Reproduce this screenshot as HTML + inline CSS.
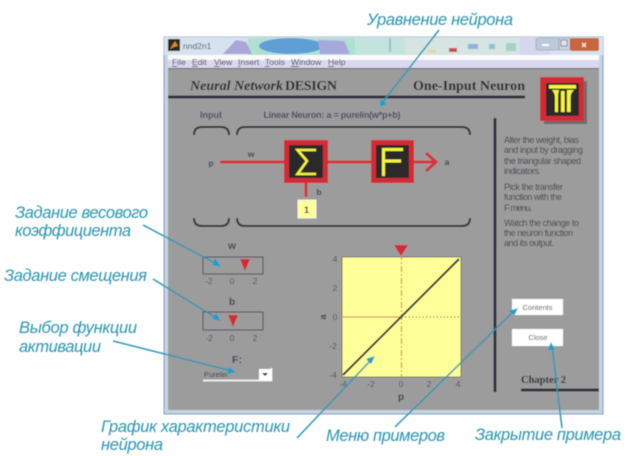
<!DOCTYPE html>
<html><head><meta charset="utf-8"><style>
html,body{margin:0;padding:0;background:#fff;width:633px;height:456px;overflow:hidden}
svg{display:block}
text{font-family:"Liberation Sans",sans-serif}
.s{font-family:"Liberation Serif",serif;font-weight:bold;fill:#26262e}
.c{font-style:italic;font-size:16.5px;fill:#2a94b2}
.h{font-size:9px;fill:#44444e}
.t{font-size:8.5px;fill:#50505c;text-anchor:middle}
.l{font-weight:bold;fill:#3e3e58;text-anchor:middle}
.br{fill:none;stroke:#33333c;stroke-width:2}
.ar{stroke:#2a96b4;stroke-width:1.5;fill:none}
.tip{fill:#1f9fcb}
</style></head><body>
<svg width="633" height="456" viewBox="0 0 633 456" xmlns="http://www.w3.org/2000/svg">
<defs><filter id="b" x="-5%" y="-5%" width="110%" height="110%"><feGaussianBlur stdDeviation="0.45"/></filter></defs>
<g filter="url(#b)">
<!-- window -->
<rect x="164" y="37" width="439" height="377" fill="#c3d3e6" stroke="#8a9cb0"/>
<rect x="164" y="37" width="439" height="18" fill="#d6e2ee"/>
<rect x="248" y="38" width="110" height="17" fill="#b0dfd4"/>
<rect x="355" y="38" width="50" height="17" fill="#c2e4dc"/>
<rect x="405" y="38" width="115" height="17" fill="#d6e4e2"/>
<rect x="520" y="38" width="30" height="17" fill="#d6d6f0"/>
<path d="M223 54 L236 40 L246 42 L252 54Z" fill="#aaa6d6"/>
<ellipse cx="291" cy="46" rx="32" ry="8" fill="#5e9fd6"/>
<path d="M318 40 L344 41 L350 54 L320 54Z" fill="#a7a8dc"/>
<rect x="389" y="38" width="2" height="14" fill="#9cc0d0"/>
<rect x="428" y="50" width="8" height="3" fill="#e0d898"/>
<rect x="449" y="48" width="8" height="4" fill="#c8505a"/>
<rect x="468" y="44" width="10" height="5" fill="#8fb4d6"/>
<rect x="489" y="44" width="6" height="5" fill="#8fc0d6"/>
<rect x="506" y="43" width="10" height="8" fill="#a8d0c8"/>
<rect x="168" y="39" width="12" height="12" fill="#2c2a24"/>
<path d="M170 49 L175 41 L178 46 L174 47Z" fill="#e08a24"/>
<text x="183" y="49" font-size="8.5" fill="#44505c">nnd2n1</text>
<rect x="536" y="38" width="23" height="12" rx="2" fill="#bcc9da" stroke="#8494a8" stroke-width=".5"/>
<rect x="559" y="38" width="11" height="12" fill="#c9d3e0" stroke="#8494a8" stroke-width=".5"/>
<rect x="570" y="38" width="29" height="13" rx="2" fill="#c9663e"/>
<text x="584" y="48" font-size="9" font-weight="bold" fill="#fff" text-anchor="middle">×</text>
<rect x="542" y="44" width="7" height="2" fill="#fff"/>
<rect x="561" y="40" width="6" height="6" fill="#dfe6ee" stroke="#555" stroke-width=".6"/>
<!-- menu -->
<rect x="168" y="55" width="431" height="5" fill="#fbfbfe"/>
<rect x="168" y="60" width="431" height="8" fill="#d8d8ee"/>
<g font-size="8.5" fill="#44444f">
<text x="172" y="65"><tspan text-decoration="underline">F</tspan>ile</text>
<text x="192" y="65"><tspan text-decoration="underline">E</tspan>dit</text>
<text x="214" y="65"><tspan text-decoration="underline">V</tspan>iew</text>
<text x="238" y="65"><tspan text-decoration="underline">I</tspan>nsert</text>
<text x="265" y="65"><tspan text-decoration="underline">T</tspan>ools</text>
<text x="291" y="65"><tspan text-decoration="underline">W</tspan>indow</text>
<text x="328" y="65"><tspan text-decoration="underline">H</tspan>elp</text>
</g>
<!-- gray canvas -->
<rect x="168" y="68" width="431" height="342" fill="#9c9c9c"/>
<rect x="168" y="68" width="431" height="1" fill="#666"/>
<!-- header -->
<text x="190" y="90" class="s" font-size="14" font-style="italic" textLength="93">Neural Network</text>
<text x="285" y="90" class="s" font-size="14" textLength="52">DESIGN</text>
<text x="413" y="90" class="s" font-size="14" textLength="112">One-Input Neuron</text>
<rect x="168" y="95.500" width="357" height="3" fill="#33333c"/>
<!-- logo -->
<rect x="544" y="81" width="43" height="43" fill="#6c6c6c"/>
<rect x="540" y="77" width="44" height="44" fill="#d42c34"/>
<rect x="546" y="83" width="33" height="33" fill="#2c2c2c"/>
<rect x="549" y="85" width="27" height="3.500" fill="#f6f63c"/>
<path d="M552 90 H559 Q558 93 558 98 V112 H555 V98 Q555 93 552 90Z M561 91 H564.500 V112 H561Z M567 90 H574 Q570.500 93 570.500 98 V112 H567Z" fill="#f6f63c"/>
<!-- right bar and help -->
<rect x="493.500" y="118" width="3" height="274" fill="#33333c"/>
<text x="504" y="143" class="h" textLength="75">Alter the weight, bias</text>
<text x="504" y="153" class="h" textLength="79">and input by dragging</text>
<text x="504" y="164" class="h" textLength="77">the triangular shaped</text>
<text x="504" y="174" class="h" textLength="37">indicators.</text>
<text x="504" y="190" class="h" textLength="59">Pick the transfer</text>
<text x="504" y="200" class="h" textLength="58">function with the</text>
<text x="504" y="211" class="h" textLength="28">F menu.</text>
<text x="504" y="226" class="h" textLength="75">Watch the change to</text>
<text x="504" y="236" class="h" textLength="69">the neuron function</text>
<text x="504" y="246" class="h" textLength="50">and its output.</text>
<!-- diagram labels -->
<text x="211" y="118" class="l" font-size="9" style="fill:#4a4a66">Input</text>
<text x="332" y="118" class="l" font-size="9" style="fill:#4a4a66" textLength="137">Linear Neuron: a = purelin(w*p+b)</text>
<path class="br" d="M194 135 Q194 127 202 127 H221 Q229 127 229 135"/>
<path class="br" d="M237 135 Q237 127 245 127 H462 Q470 127 470 135"/>
<path class="br" d="M194 218 Q194 226 202 226 H221 Q229 226 229 218"/>
<path class="br" d="M237 218 Q237 226 245 226 H462 Q470 226 470 218"/>
<!-- connectors -->
<g stroke="#d8303a" stroke-width="3" fill="none">
<path d="M220 162 H284"/>
<path d="M328 162 H371"/>
<path d="M413 162 H435"/>
<path d="M426 153 L436 162 L426 171"/>
<path d="M306 183 V197"/>
</g>
<!-- sum box -->
<rect x="284" y="140" width="44" height="43" fill="#d42c34"/>
<rect x="289" y="145" width="34" height="33" fill="#2c2c2c"/>
<path d="M316 150 H297.500 L307 161 L297.500 174 H316" fill="none" stroke="#f4f43c" stroke-width="2.500"/>
<!-- F box -->
<rect x="371" y="140" width="43" height="43" fill="#d42c34"/>
<rect x="376" y="145" width="33" height="33" fill="#2c2c2c"/>
<path d="M383.500 176 V149.500 H403 M383.500 161 H401" fill="none" stroke="#f4f43c" stroke-width="3"/>
<text x="251" y="157" class="l" font-size="8.5">w</text>
<text x="211" y="166" class="l" font-size="8.5">p</text>
<text x="447" y="165" class="l" font-size="8.5">a</text>
<text x="319" y="195" class="l" font-size="8.5">b</text>
<rect x="298" y="200" width="18" height="18" fill="#ffff99" stroke="#eee" stroke-width="1"/>
<text x="306.500" y="213" class="l" font-size="9" style="fill:#33333c">1</text>
<!-- sliders -->
<text x="232" y="249" class="l" font-size="10">w</text>
<rect x="203" y="257" width="60" height="17" fill="#9c9c9c" stroke="#45455a"/>
<path d="M240 259 H250 L245 271Z" fill="#d42c34"/>
<text x="209" y="284" class="t">-2</text><text x="232" y="284" class="t">0</text><text x="255" y="284" class="t">2</text>
<text x="232" y="305" class="l" font-size="10">b</text>
<rect x="203" y="312" width="60" height="18" fill="#9c9c9c" stroke="#45455a"/>
<path d="M228 315 H238 L233 327Z" fill="#d42c34"/>
<text x="209" y="341" class="t">-2</text><text x="232" y="341" class="t">0</text><text x="255" y="341" class="t">2</text>
<text x="237" y="363" class="l" font-size="10.500">F:</text>
<path d="M203 380.500 H271.500 V368" fill="none" stroke="#fff" stroke-width="1.500"/>
<rect x="259" y="369" width="12" height="11" fill="#fff"/>
<path d="M262 373 H268 L265 376Z" fill="#222"/>
<text x="204" y="377" font-size="7.500" fill="#33333c">Purelin</text>
<!-- plot -->
<rect x="342" y="257" width="119" height="120" fill="#ffff99" stroke="#77776a"/>
<path d="M401.500 254 V377" stroke="#c89a50" stroke-width="1.200" stroke-dasharray="6 2 2 2" fill="none"/>
<path d="M342 317 H401.500" stroke="#d89a60" stroke-width="1.200" fill="none"/>
<path d="M401.500 317 H461" stroke="#555" stroke-width="1" stroke-dasharray="1.500 2" fill="none"/>
<path d="M343 375 L459 259" stroke="#2e2a3a" stroke-width="2" fill="none"/>
<path d="M394 245 H408 L401 256Z" fill="#d42c34"/>
<text x="335" y="262" class="t">4</text><text x="335" y="291" class="t">2</text><text x="335" y="320" class="t">0</text><text x="333" y="349" class="t">-2</text><text x="333" y="378" class="t">-4</text>
<text x="343" y="387" class="t">-4</text><text x="371" y="387" class="t">-2</text><text x="401" y="387" class="t">0</text><text x="429" y="387" class="t">2</text><text x="458" y="387" class="t">4</text>
<text x="401" y="400" class="l" font-size="10">p</text>
<text x="326" y="317" class="l" font-size="9.500" transform="rotate(-90 326 317)">a</text>
<!-- buttons -->
<rect x="512" y="299" width="51" height="16" fill="#fff"/>
<text x="537.500" y="310" font-size="7.500" fill="#444" text-anchor="middle">Contents</text>
<rect x="512" y="329" width="51" height="17" fill="#fff"/>
<text x="538" y="340" font-size="7.500" fill="#444" text-anchor="middle">Close</text>
<text x="521" y="383" class="s" font-size="10.500" textLength="45">Chapter 2</text>
<rect x="521" y="388.500" width="78" height="3" fill="#33333c"/>
<!-- callout arrows -->
<g class="ar">
<path d="M439 30 L382 103"/>
<path d="M143 225 L217 264"/>
<path d="M153 279 L218 319"/>
<path d="M113 341 L232 371"/>
<path d="M297 438 L372 359"/>
<path d="M395 427 L515 310"/>
<path d="M562 428 L552 346"/>
</g>
<g class="tip">
<path d="M380 107 L380 99 L387 104Z"/>
<path d="M221 267 L212 265 L215 258Z"/>
<path d="M221 321 L212 319 L216 313Z"/>
<path d="M236 372 L227 374 L229 367Z"/>
<path d="M375 356 L371 364 L366 359Z"/>
<path d="M518 308 L514 316 L509 311Z"/>
<path d="M551 342 L555 350 L548 350Z"/>
</g>
<!-- callout text -->
<text x="367" y="25" class="c" textLength="146">Уравнение нейрона</text>
<text x="15" y="218" class="c" textLength="133">Задание весового</text>
<text x="15" y="236" class="c" textLength="116">коэффициента</text>
<text x="4" y="281" class="c" textLength="143">Задание смещения</text>
<text x="19" y="333" class="c" textLength="118">Выбор функции</text>
<text x="19" y="352" class="c" textLength="82">активации</text>
<text x="101" y="432" class="c" textLength="189">График характеристики</text>
<text x="101" y="450" class="c" textLength="62">нейрона</text>
<text x="326" y="441" class="c" textLength="119">Меню примеров</text>
<text x="475" y="440" class="c" textLength="146">Закрытие примера</text>
</g>
</svg>
</body></html>
